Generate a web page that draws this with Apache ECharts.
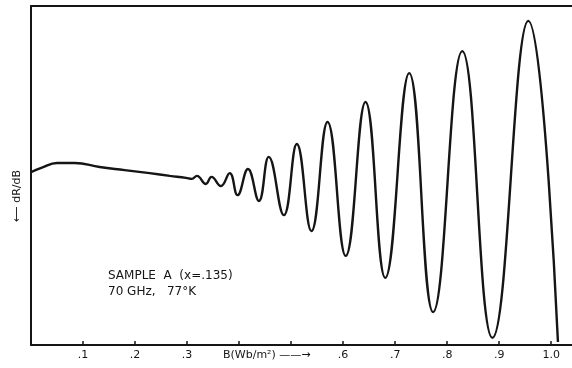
<!DOCTYPE html>
<html>
<head>
<meta charset="utf-8">
<script src="https://cdn.jsdelivr.net/npm/echarts@6/dist/echarts.min.js"></script>
<style>
  html, body { margin: 0; padding: 0; background: #fff; }
  #chart { width: 572px; height: 368px; }
</style>
</head>
<body>
<div id="chart"></div>
<script>
// magnetic field B (Wb/m^2) (baseline, then peaks/troughs)
const bField = [
  0.000, 0.021, 0.050, 0.084, 0.132, 0.180, 0.228, 0.267, 0.298, 0.309,
  0.319, 0.336, 0.347, 0.365, 0.382, 0.397, 0.417, 0.438, 0.457, 0.486,
  0.511, 0.539, 0.570, 0.605, 0.643, 0.681, 0.727, 0.773, 0.829, 0.887,
  0.956, 1.013
];
// dR/dB signal, arbitrary units (0 = bottom axis, 100 = top of frame)
const signal = [
  51.0, 52.3, 53.7, 53.7, 52.5, 51.6, 50.7, 49.9, 49.3, 49.0,
  49.9, 47.5, 49.6, 46.9, 50.7, 44.2, 51.9, 42.5, 55.5, 38.3,
  59.3, 33.6, 65.8, 26.3, 71.7, 19.8, 80.2, 9.7, 86.7, 2.1,
  95.6, 0.9
];
// tick labels shown on the field axis (.4 and .5 are left out in the original)
const tickLabels = ['', '.1', '.2', '.3', '', '', '.6', '.7', '.8', '.9', '1.0'];

const chart = echarts.init(document.getElementById('chart'));
const ink = '#151515';

const option = {
  animation: false,
  backgroundColor: '#fff',
  grid: { left: 31, right: 0, top: 6, bottom: 23 },
  xAxis: [
    {
      type: 'value',
      min: 0,
      max: 1.04,
      interval: 0.1,
      axisLine: { show: true, lineStyle: { color: ink, width: 2 } },
      axisTick: { show: true, inside: true, length: 4, lineStyle: { color: ink, width: 1.5 } },
      splitLine: { show: false },
      axisLabel: {
        color: ink,
        fontFamily: 'DejaVu Sans',
        fontSize: 11,
        margin: 5,
        showMaxLabel: false,
        formatter: function (v) {
          const i = Math.round(v * 10);
          return tickLabels[i] || '';
        }
      }
    },
    {
      type: 'value',
      position: 'top',
      min: 0,
      max: 1.04,
      axisLine: { show: true, lineStyle: { color: ink, width: 2 } },
      axisTick: { show: false },
      axisLabel: { show: false },
      splitLine: { show: false }
    }
  ],
  yAxis: {
    type: 'value',
    min: 0,
    max: 100,
    axisLine: { show: true, lineStyle: { color: ink, width: 2 } },
    axisTick: { show: false },
    axisLabel: { show: false },
    splitLine: { show: false }
  },
  graphic: [
    {
      type: 'text',
      left: 108,
      top: 268,
      style: {
        text: 'SAMPLE  A  (x=.135)\n70 GHz,   77°K',
        font: '12px "DejaVu Sans"',
        fill: ink,
        lineHeight: 16
      }
    },
    {
      type: 'text',
      left: 223,
      top: 350,
      style: {
        text: 'B(Wb/m²) ——→',
        font: '11px "DejaVu Sans"',
        fill: ink
      }
    },
    {
      type: 'text',
      x: 17,
      y: 196,
      rotation: Math.PI / 2,
      style: {
        text: '⟵ dR/dB',
        font: '11px "DejaVu Sans"',
        fill: ink,
        align: 'center',
        verticalAlign: 'middle'
      }
    }
  ],
  series: [
    {
      type: 'line',
      data: bField.map((b, i) => [b, signal[i]]),
      smooth: 0.45,
      symbol: 'none',
      lineStyle: { color: ink, width: 2.4 }
    }
  ]
};

chart.setOption(option);
</script>
</body>
</html>
